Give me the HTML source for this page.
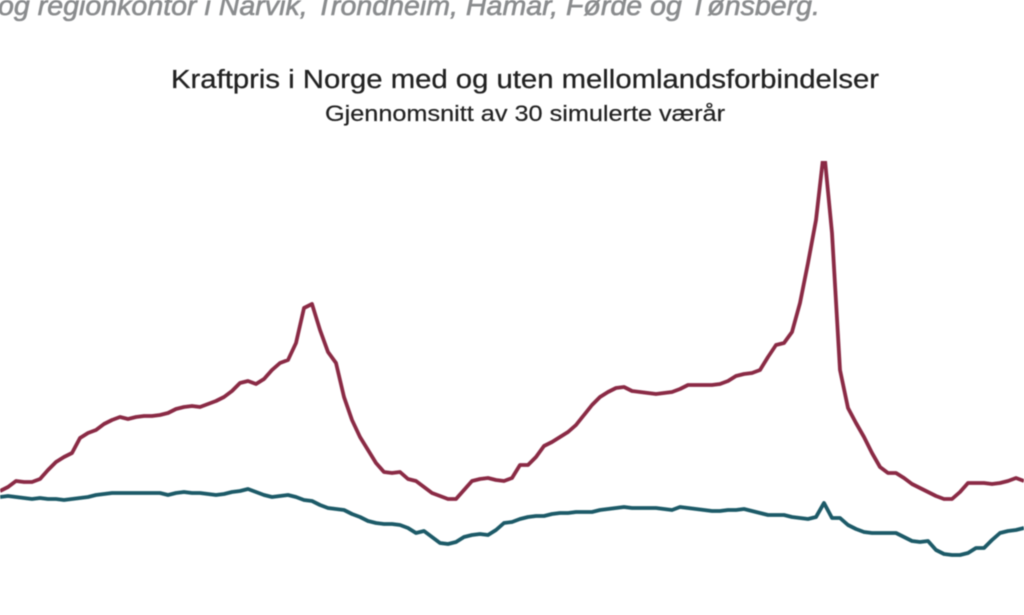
<!DOCTYPE html>
<html lang="no">
<head>
<meta charset="utf-8">
<title>Kraftpris i Norge med og uten mellomlandsforbindelser</title>
<style>
html,body{margin:0;padding:0;background:#fff;}
body{width:1024px;height:615px;overflow:hidden;position:relative;}
svg{position:absolute;left:0;top:0;display:block;}
text{font-family:"Liberation Sans",sans-serif;}
</style>
</head>
<body>
<svg id="chart" width="1024" height="615" viewBox="0 0 1024 615">
  <defs>
    <clipPath id="plot-clip"><rect x="0" y="161" width="1024" height="454"></rect></clipPath>
    <filter id="soft" x="-5%" y="-5%" width="110%" height="110%"><feGaussianBlur stdDeviation="0.55"></feGaussianBlur></filter>
  </defs>
  <g filter="url(#soft)">
    <text x="-2" y="15" font-size="28" font-style="italic" fill="#8a8c8e" stroke="#8a8c8e" stroke-width="0.6" textLength="822" lengthAdjust="spacingAndGlyphs">og regionkontor i Narvik, Trondheim, Hamar, Førde og Tønsberg.</text>
    <text x="171" y="88" font-size="25.5" fill="#222" stroke="#222" stroke-width="0.25" textLength="708" lengthAdjust="spacingAndGlyphs">Kraftpris i Norge med og uten mellomlandsforbindelser</text>
    <text x="325" y="121" font-size="22" fill="#222" stroke="#222" stroke-width="0.2" textLength="400" lengthAdjust="spacingAndGlyphs">Gjennomsnitt av 30 simulerte værår</text>
    <g id="series" clip-path="url(#plot-clip)"></g>
  </g>
</svg>
<script>
const withCables = [109,113,119,118,118,121,130,138,143,147,162,167,170,176,180,183,181,183,184,184,185,187,191,193,194,193,196,199,203,209,217,219,216,221,230,237,240,257,292,296,270,248,237,203,180,163,150,137,128,127,128,121,119,113,107,104,101,101,110,119,121,122,120,119,
122,135,135,143,154,158,163,168,175,185,195,203,208,212,213,209,208,207,206,207,208,211,215,215,215,215,216,219,224,226,227,230,243,255,257,268,297,337,380,450,367,230,192,177,163,147,133,127,127,122,116,112,108,104,101,101,108,117,117,117,116,117,119,122,119];
const withoutCables = [103,104,103,102,101,102,101,101,100,101,102,103,105,106,107,107,107,107,107,107,107,105,107,108,107,107,106,105,106,108,109,111,108,105,103,104,105,103,100,99,95,92,91,90,86,83,79,77,76,76,75,72,67,69,63,57,56,58,63,65,66,65,70,77,
78,81,83,84,84,86,87,87,88,88,88,90,91,92,93,92,92,92,92,91,90,93,92,91,90,89,89,90,90,91,89,87,85,85,85,83,82,81,83,97,82,82,75,71,68,67,67,67,67,63,59,58,59,50,46,45,45,47,52,52,60,67,69,70,72];

const plotWidth = 1024;
const plotBottom = 600;
const xScale = function (i, n) { return i * plotWidth / (n - 1); };
const yScale = function (v) { return plotBottom - v; };

function linePath(values) {
  return values.map(function (v, i) {
    return (i ? 'L' : 'M') + xScale(i, values.length).toFixed(1) + ' ' + yScale(v).toFixed(1);
  }).join(' ');
}

const group = document.getElementById('series');
const ns = 'http://www.w3.org/2000/svg';

const redLine = document.createElementNS(ns, 'path');
redLine.setAttribute('d', linePath(withCables));
redLine.setAttribute('fill', 'none');
redLine.setAttribute('stroke', '#8a2945');
redLine.setAttribute('stroke-width', '3.8');
redLine.setAttribute('stroke-linejoin', 'round');


group.appendChild(redLine);

const tealLine = document.createElementNS(ns, 'path');
tealLine.setAttribute('d', linePath(withoutCables));
tealLine.setAttribute('fill', 'none');
tealLine.setAttribute('stroke', '#1c5a67');
tealLine.setAttribute('stroke-width', '3.8');
tealLine.setAttribute('stroke-linejoin', 'round');


group.appendChild(tealLine);
</script>
</body>
</html>
